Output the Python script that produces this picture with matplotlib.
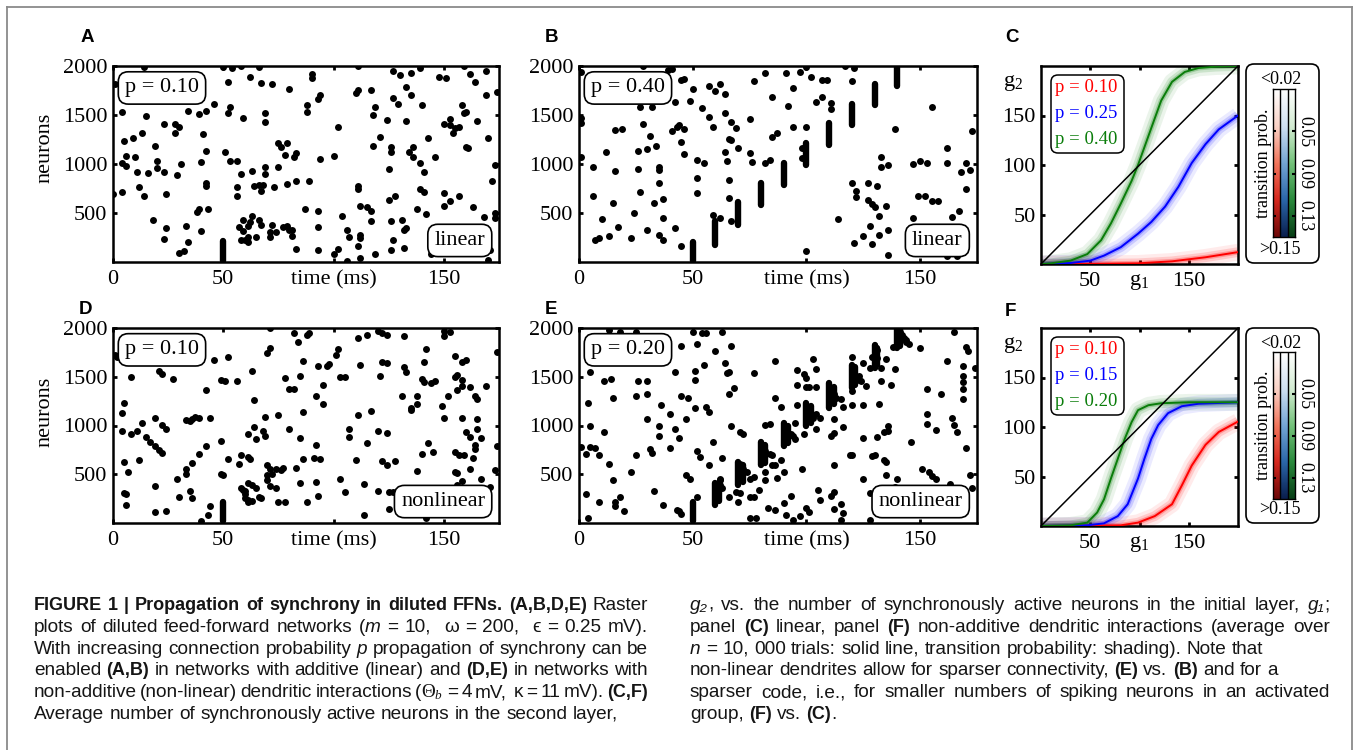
import numpy as np
import matplotlib
matplotlib.use('Agg')
import matplotlib.pyplot as plt
from matplotlib.colors import LinearSegmentedColormap
from matplotlib.patches import FancyBboxPatch
from matplotlib.transforms import IdentityTransform
from matplotlib.lines import Line2D

plt.rcParams['font.family'] = ['Liberation Serif', 'DejaVu Serif']
plt.rcParams['mathtext.fontset'] = 'custom'
plt.rcParams['mathtext.rm'] = 'Liberation Serif'
plt.rcParams['mathtext.it'] = 'Liberation Serif:italic'
plt.rcParams['mathtext.bf'] = 'Liberation Serif:bold'

W, H = 1354, 750
PX = IdentityTransform()

# ---- raster data: (time ms, neuron index) ----
spikes_a = [(1,1820),(14,1990),(50,1990),(54,1975),(58,2000),(52,1837),(62,1888),(66,1990),(67,1827),(72,1814),(80,1763),(90,1915),(90,1881),(94,1709),(93,1661),(111,2000),(111,1760),(110,1726),(117,1753),(127,1949),(130,1905),(135,1929),(133,1787),(135,1709),(139,1980),(127,1678),(129,1617),(140,1600),(148,1888),(151,1875),(159,2000),(162,1915),(164,1837),(169,1949),(169,1702),(174,1736),
            (4,1526),(15,1492),(34,1540),(39,1509),(42,1543),(46,1611),(53,1584),(52,1516),(59,1465),(69,1516),(69,1431),(23,1407),(28,1407),(30,1380),(28,1319),(13,1319),(9,1269),(5,1235),(41,1302),(88,1607),(88,1533),(102,1380),(119,1577),(118,1499),(124,1448),(133,1438),(143,1262),(150,1404),(153,1455),(153,1397),(154,1313),(158,1600),(159,1522),(160,1533),(155,1370),(157,1380),(165,1438),(170,1269),(161,1160),(160,1170),(121,1272),(118,1184),(126,1177),(126,1126),(136,1177),(134,1126),(136,1075),(139,1015),(141,923),(146,1075),(125,947),
            (19,1187),(6,1086),(10,1069),(4,1015),(6,981),(11,923),(16,913),(20,957),(23,923),(20,1035),(31,998),(29,889),(42,1137),(40,1018),(51,1120),(53,1032),(56,1035),(58,896),(63,933),(69,974),(69,899),(75,974),(75,1218),(76,1177),(79,1211),(78,1093),(83,1116),(82,1075),(94,1049),(100,1083),(173,991),(172,828),
            (4,713),(0,696),(12,761),(14,669),(18,432),(24,696),(42,811),(42,771),(38,507),(39,541),(43,541),(40,320),(24,347),(23,236),(33,371),(34,202),(30,87),(32,111),(56,764),(56,676),(64,771),(66,788),(67,720),(68,788),(73,761),(79,798),(83,828),(89,822),(87,541),(93,517),(93,354),(83,134),(93,121),(100,83),(102,134),(104,466),(106,324),(107,253),(111,777),(111,744),(112,574),(115,561),(117,524),(117,415),(112,280),(112,246),(111,168),(112,43),(119,83),(126,121),(126,415),(125,636),(128,669),(131,432),(132,330),(133,347),(127,229),(132,144),(138,544),(142,493),(139,744),(141,710),(150,703),(153,618),(150,568),(157,669),(163,561),(168,459),(173,500),(173,449),(144,77),(154,111),(171,121),(170,19),(106,9),
            (57,354),(59,314),(58,229),(60,229),(61,256),(61,205),(59,425),(62,405),(61,364),(63,466),(65,253),(66,432),(67,374),(71,256),(71,304),(72,381),(74,304),(77,357),(79,364),(80,330),(81,263),(81,330)]
pulses_a = [(50, 10, 210)]

spikes_b = [(1,1939),(1,1414),(1,1465),(1,1076),(6,974),(6,669),(7,222),(9,246),(10,442),(13,263),(12,1126),(15,602),(16,933),(16,1346),(19,1357),(17,358),(23,246),(24,500),(26,947),(26,1133),(27,710),(27,1584),(32,1584),(28,2000),(28,1407),(30,324),(30,1150),(31,1286),(34,1184),(33,602),(35,974),(35,940),(35,811),(35,280),(37,222),(37,642),(37,449),(39,1963),(41,1973),(42,1634),(42,347),(41,1340),(43,1380),(44,1397),(46,1353),(45,1228),(46,1103),(45,168),(45,1854),(46,1871),(49,1644),(50,1770),(52,1042),(55,1008),(52,862),(52,703),(54,1567),(57,1793),(60,1746),(57,1482),(59,1380),(62,1821),(64,1719),(59,476),(62,449),(64,1516),(64,1126),(65,1032),(66,839),(66,652),(67,415),(66,1252),(67,1245),(67,1431),(69,1370),(70,1167),(75,1455),(75,1116),(76,1025),(77,1844),(82,1015),(84,1042),(82,1929),(85,1685),(85,1272),(87,1313),(91,1929),(92,1590),(94,1780),(94,1380),(97,1939),(100,1990),(100,1380),(100,111),(98,1160),(98,1059),(102,1888),(104,1634),(107,1685),(107,1854),(109,1854),(111,1627),(111,1560),(114,442),(117,2000),(121,1980),(120,1848),(120,811),(122,720),(122,659),(121,195),(125,263),(127,811),(127,629),(129,188),(129,595),(131,771),(130,561),(128,371),(132,466),(132,280),(135,568),(133,1076),(133,974),(136,324),(136,67),(136,991),(139,1353),(147,998),(150,1032),(153,1008),(147,449),(149,669),(152,676),(155,625),(158,625),(155,1584),(162,1160),(162,1008),(164,459),(167,517),(162,60),(166,60),(168,923),(170,1008),(172,940),(170,744),(173,1340)]
pulses_b = [(50,10,200),(60,178,415),(70,381,612),(80,585,805),(90,788,1008),(100,991,1218),(110,1194,1414),(120,1397,1611),(130,1600,1821),(140,1793,1990)]

spikes_d = [(1,1723),(2,1706),(5,1233),(4,1132),(4,946),(8,1497),(8,912),(11,946),(13,1024),(15,878),(17,835),(19,794),(21,750),(22,716),(19,1074),(22,1003),(24,963),(21,1564),(22,1530),(27,1476),(5,625),(7,524),(5,304),(6,294),(6,186),(12,649),(19,382),(19,108),(24,118),(29,450),(30,271),(33,507),(33,558),(36,618),(39,710),(42,794),(35,328),(36,254),(33,1054),(36,1064),(35,1047),(37,1088),(39,1074),(44,1081),(42,1362),(46,1672),(52,1699),(40,24),(43,85),(44,179),(49,845),(49,507),(50,490),(49,1470),(51,1453),(56,1459),(63,1554),(52,659),(57,602),(58,693),(61,676),(62,659),(61,912),(64,987),(65,862),(64,1257),(68,946),(69,889),(69,1091),(70,1740),(71,1791),(71,2000),(75,1105),(78,1486),(80,1375),(82,1375),(80,963),(82,1949),(84,1858),(88,1932),(89,1949),(86,1662),(85,1510),(86,1142),(85,868),(86,659),(83,564),(91,669),(94,659),(92,804),(93,1612),(97,1612),(98,1632),(95,1419),(92,1307),(95,1223),(101,1723),(102,1780),(103,1497),(105,1497),(107,963),(107,878),(111,1108),(112,1622),(111,1902),(115,1932),(117,1149),(115,821),(120,1970),(122,1949),(124,1926),(132,1916),(121,1510),(122,1649),(124,1639),(120,939),(124,919),(122,635),(124,591),(128,632),(132,1598),(133,1544),(131,1307),(135,1182),(135,1155),(138,1301),(138,531),(140,710),(142,1780),(141,1649),(140,1480),(141,1446),(138,1216),(144,1436),(146,1453),(150,1966),(153,1959),(150,1919),(149,1200),(152,1307),(150,1081),(143,821),(145,733),(155,1497),(156,1520),(155,1716),(158,1649),(160,1672),(156,1362),(158,1409),(162,1395),(158,1463),(164,1307),(165,1274),(158,1081),(155,733),(157,693),(159,693),(160,929),(163,669),(162,878),(165,1071),(165,963),(167,868),(164,801),(164,754),(169,1409),(174,1757),(174,794),(173,541),(155,524),(156,517),(158,429),(156,389),(162,551),(167,450),(171,372),(152,271),(125,321),(127,314),(125,142),(114,85),(120,328),(114,399),(103,450),(105,321),(110,642),(93,281),(92,416),(88,213),(85,406),(78,220),(74,355),(75,220),(70,591),(71,551),(72,507),(74,558),(76,547),(77,564),(70,490),(70,440),(71,382),(61,237),(63,230),(66,271),(67,254),(61,406),(63,389),(65,362),(60,328),(60,254),(61,213),(58,355),(59,338),(60,294),(142,51)]
pulses_d = [(50, 20, 220)]

spikes_e = [(1,777),(3,710),(5,777),(7,770),(9,693),(3,294),(4,51),(5,1544),(4,1226),(5,997),(9,213),(11,1453),(14,1476),(13,1976),(18,1959),(25,1959),(15,1277),(11,929),(13,601),(15,439),(16,213),(18,271),(16,179),(20,118),(23,524),(25,693),(25,1307),(26,1459),(30,1453),(30,1318),(30,1064),(31,760),(32,720),(33,328),(35,997),(36,1206),(35,889),(37,186),(40,1122),(40,767),(42,1544),(42,963),(43,135),(44,118),(45,91),(45,1818),(45,1301),(48,1284),(44,868),(47,1071),(47,490),(49,456),(50,1959),(54,1953),(56,1949),(51,1470),(51,1564),(52,1834),(51,1176),(52,743),(52,264),(53,676),(55,1622),(56,1193),(57,1139),(57,591),(59,828),(60,1767),(63,1959),(64,1645),(65,1537),(66,1544),(66,1328),(68,1385),(67,1814),(63,666),(62,439),(67,990),(71,929),(72,912),(77,1537),(69,321),(71,304),(70,213),(66,271),(75,271),(77,264),(79,338),(75,51),(78,51),(82,524),(82,439),(83,152),(86,135),(85,591),(86,598),(87,463),(89,642),(90,524),(82,1003),(84,1013),(86,1662),(86,1284),(89,1193),(90,203),(91,85),(93,281),(94,34),(96,1571),(99,1530),(100,1487),(96,1419),(100,1395),(101,1395),(104,1395),(96,1206),(98,551),(95,1030),(97,68),(99,912),(100,152),(101,111),(103,1679),(104,1578),(104,963),(105,338),(106,237),(106,1081),(111,895),(112,922),(112,1071),(112,598),(111,281),(112,314),(112,145),(115,193),(116,101),(115,34),(116,980),(116,1193),(119,693),(120,700),(120,1352),(120,1706),(120,1206),(125,1206),(124,1459),(125,1639),(128,1588),(126,1402),(129,1706),(125,868),(125,456),(128,304),(128,34),(129,686),(130,693),(131,878),(132,1216),(133,1459),(133,1588),(135,1679),(134,929),(134,642),(135,625),(135,490),(136,939),(136,997),(137,1419),(138,1807),(139,1578),(140,450),(139,372),(143,1902),(144,1858),(145,1834),(146,835),(150,1790),(151,558),(154,524),(155,483),(157,456),(153,1115),(153,1013),(157,953),(153,1375),(159,1318),(162,1666),(165,1959),(164,1081),(165,1003),(166,936),(163,395),(170,1807),(171,1767),(169,1615),(169,1510),(169,1443),(169,1375),(169,1274),(170,767),(172,490),(173,362),(174,1588),
            (62,389),(62,456),(63,355),(71,608),(72,558),(74,524),(75,456),(77,473),(81,726),(82,743),(84,710),(85,693),(91,946),(93,912),(94,889),(95,862),(101,1132),(103,1081),(104,1115),(112,1318),(113,1284),(115,1267),(121,1520),(123,1503),(123,1470),(131,1774),(131,1689),(141,1959),(142,1926),(144,1875)]
pulses_e = [(50,24,220),(60,186,412),(61.5,230,400),(70,389,625),(72,420,600),(80,591,828),(82,620,800),(90,794,1030),(92,820,1000),(100,997,1233),(102,1030,1200),(110,1182,1436),(112,1220,1400),(120,1385,1622),(121.5,1420,1600),(130,1588,1824),(131,1620,1800),(140,1790,2000),(141,1820,1990)]

# ---- transfer curves g2(g1) ----
c_red_x = [0, 50, 98.5, 133, 167, 200]
c_red_y = [0, 0.2, 0.7, 2.7, 6.8, 12]
c_blue_x = [0, 30, 50, 64, 81, 98.5, 112, 126, 139.5, 153, 167, 180.5, 200]
c_blue_y = [0, 1, 3.4, 8.5, 17, 30.6, 42.5, 58, 78, 102, 121, 136, 150]
c_green_x = [0, 10, 30, 47, 61, 71, 81, 92, 98.5, 105, 114, 122, 133, 146, 160, 177, 200]
c_green_y = [0, 0.7, 3.4, 10, 24, 41, 61, 84, 100, 118, 143, 165, 184, 194, 198, 199.3, 200]

f_red_x = [0, 81, 98.5, 115.5, 133, 143, 153, 167, 180.5, 200]
f_red_y = [0, 0.7, 3.4, 10, 22, 41, 61, 82, 95, 105.5]
f_blue_x = [0, 47, 64, 78, 88, 98.5, 105, 112, 119, 129, 143, 160, 200]
f_blue_y = [0, 0.7, 2.7, 10, 22, 48, 68, 88, 102, 114, 121, 123.5, 125]
f_green_x = [0, 30, 47, 57, 64, 71, 78, 85, 92, 98.5, 109, 122, 150, 200]
f_green_y = [0, 0.7, 3.4, 13.6, 27, 48, 68, 88, 105, 117, 122, 124, 125, 125]

p_labels_c = ['p = 0.10', 'p = 0.25', 'p = 0.40']
p_labels_f = ['p = 0.10', 'p = 0.15', 'p = 0.20']
cb_ticks = [0.05, 0.09, 0.13]

RED, BLUE, GREEN = '#ff0000', '#0000ff', '#0a7d0a'

fig = plt.figure(figsize=(W / 100, H / 100), dpi=100)


def px_axes(x0, y0, x1, y1):
    return fig.add_axes([x0 / W, 1 - y1 / H, (x1 - x0) / W, (y1 - y0) / H])


def frame(ax, lw=1.8):
    for s in ax.spines.values():
        s.set_linewidth(lw)


def raster(box, spikes, pulses, ptxt, mode, txt_x):
    ax = px_axes(*box)
    t, n = np.array(spikes, dtype=float).T
    ax.scatter(t, n, s=25, c='k', linewidths=0, zorder=2)
    for tp, lo, hi in pulses:
        ax.plot([tp, tp], [lo, hi], color='k', lw=4.6, solid_capstyle='round', zorder=2)
    ax.set_xlim(0, 175)
    ax.set_ylim(0, 2000)
    ax.set_xticks([0, 50, 100, 150])
    ax.set_xticklabels(['0', '50', 'time (ms)', '150'])
    ax.set_yticks([500, 1000, 1500, 2000])
    ax.tick_params(direction='in', length=3, width=2, top=True, right=True, labelsize=16)
    ax.tick_params(axis='x', pad=6)
    ax.tick_params(axis='y', pad=4)
    frame(ax)
    bb = dict(boxstyle='round,pad=0.3,rounding_size=0.45', fc='white', ec='black', lw=1.2)
    ax.text(txt_x, 0.888, ptxt, transform=ax.transAxes, fontsize=16, ha='left', va='center', bbox=bb, zorder=5)
    ax.text(0.964, 0.11, mode, transform=ax.transAxes, fontsize=16, ha='right', va='center', bbox=bb, zorder=5)
    return ax


raster((113, 66, 499, 262), spikes_a, pulses_a, 'p = 0.10', 'linear', 0.031)
raster((579, 66, 977, 262), spikes_b, pulses_b, 'p = 0.40', 'linear', 0.03)
raster((113, 328, 499, 523), spikes_d, pulses_d, 'p = 0.10', 'nonlinear', 0.031)
raster((579, 328, 977, 523), spikes_e, pulses_e, 'p = 0.20', 'nonlinear', 0.03)

for yc in (148, 412):
    fig.text(45, H - yc, 'neurons', transform=PX, fontsize=16, rotation=90, ha='center', va='center')

cmaps = [LinearSegmentedColormap.from_list('r', ['#ffffff', '#fad2c6', '#f2765c', '#d6281e', '#6e0808']),
         LinearSegmentedColormap.from_list('b', ['#ffffff', '#cfe0f1', '#74a6d4', '#2b67a9', '#0a1f4e']),
         LinearSegmentedColormap.from_list('g', ['#ffffff', '#d3ecd2', '#74c27a', '#2a8a3c', '#083f16'])]


def transfer(top, curves, labels, cb_top, cb_bot, box_top, box_bot):
    ax = px_axes(1041, top, 1238, top + 198)
    ax.plot([0, 200], [0, 200], color='k', lw=1.1, zorder=4)
    for (x, y), col in zip(curves, [RED, BLUE, GREEN]):
        for lw, a in [(12, 0.08), (7, 0.14), (3.5, 0.25)]:
            ax.plot(x, y, color=col, lw=lw, alpha=a, solid_capstyle='butt', zorder=2)
        ax.plot(x, y, color=col, lw=1.4, zorder=3)
    ax.set_xlim(0, 200)
    ax.set_ylim(0, 200)
    ax.set_xticks([50, 100, 150])
    ax.set_xticklabels(['50', r'$\mathrm{g}_1$', '150'])
    ax.set_yticks([50, 100, 150])
    ax.tick_params(direction='in', length=3, width=2, top=True, right=True, labelsize=16)
    ax.tick_params(axis='x', pad=6)
    ax.tick_params(axis='y', pad=4)
    frame(ax)
    ax.text(-0.142, 0.915, r'$\mathrm{g}_2$', transform=ax.transAxes, fontsize=16, ha='center', va='center')
    # legend box
    fig.add_artist(FancyBboxPatch((1051, H - (top + 87)), 73, 78, boxstyle='round,pad=0,rounding_size=7',
                                  transform=PX, fc='white', ec='black', lw=1.1, zorder=5))
    for i, (lab, col) in enumerate(zip(labels, [RED, BLUE, GREEN])):
        fig.text(1055, H - (top + 21 + 26 * i), lab, transform=PX, color=col, fontsize=13.5,
                 ha='left', va='center', zorder=6)
    # colour strips
    cax = px_axes(1273, cb_top, 1295, cb_bot)
    grad = np.linspace(0.01, 0.15, 120)[:, None]
    for i, cm in enumerate(cmaps):
        cax.imshow(grad, cmap=cm, vmin=0.01, vmax=0.15, aspect='auto', extent=[i, i + 1, 0.15, 0.01])
    for xb in (1, 2):
        cax.axvline(xb, color='k', lw=1.0)
    cax.set_xlim(0, 3)
    cax.set_ylim(0.15, 0.01)
    cax.set_xticks([])
    cax.set_yticks(cb_ticks)
    cax.set_yticklabels(['%.2f' % v for v in cb_ticks])
    cax.tick_params(axis='y', direction='in', length=2, width=1.5, left=True, right=True,
                    labelleft=False, labelright=True, labelsize=13, pad=1)
    for lab in cax.get_yticklabels():
        lab.set_rotation(-90)
        lab.set_va('center')
    frame(cax, 1.0)
    fig.add_artist(FancyBboxPatch((1246, H - box_bot), 73, box_bot - box_top, boxstyle='round,pad=0,rounding_size=8',
                                  transform=PX, fc='none', ec='black', lw=1.2, zorder=1))
    fig.text(1281, H - (box_top + 15), '<0.02', transform=PX, fontsize=13, ha='center', va='center')
    fig.text(1280, H - (box_bot - 14), '>0.15', transform=PX, fontsize=13, ha='center', va='center')
    fig.text(1263, H - (cb_top + cb_bot) / 2, 'transition prob.', transform=PX, fontsize=13,
             rotation=90, ha='center', va='center')


transfer(66, [(c_red_x, c_red_y), (c_blue_x, c_blue_y), (c_green_x, c_green_y)], p_labels_c, 89, 237, 64, 263)
transfer(328, [(f_red_x, f_red_y), (f_blue_x, f_blue_y), (f_green_x, f_green_y)], p_labels_f, 352, 499, 328, 523)

# panel letters
for lt, (x, y) in zip('ABCDEF', [(87, 38), (551, 38), (1012, 38), (86, 309), (551, 309), (1010, 311)]):
    fig.text(x, H - y, lt, transform=PX, fontsize=13.5, weight='bold', family=['Liberation Sans', 'DejaVu Sans'],
             ha='center', va='center')

# outer frame
for xs, ys in [([7, 1352], [7, 7]), ([7, 7], [7, 750]), ([1352, 1352], [7, 750])]:
    fig.add_artist(Line2D(xs, [H - v for v in ys], transform=PX, color='#8a8a8a', lw=1.3))

# caption
cap_font = ['Liberation Sans Narrow', 'Liberation Sans', 'DejaVu Sans']
left_lines = [
    [('FIGURE 1 | Propagation of synchrony in diluted FFNs. (A,B,D,E)', 'b'), (' Raster', 'n')],
    [('plots of diluted feed-forward networks (', 'n'), ('m', 'i'), (' = 10,  ω = 200,  ϵ = 0.25 mV).', 'n')],
    [('With increasing connection probability', 'n'), (' p', 'i'), (' propagation of synchrony can be', 'n')],
    [('enabled', 'n'), (' (A,B)', 'b'), (' in networks with additive (linear) and', 'n'), (' (D,E)', 'b'), (' in networks with', 'n')],
    [('non-additive (non-linear) dendritic interactions (', 'n'), (r'$\Theta_b$', 'n'), (' = 4 mV,  κ = 11 mV).', 'n'), (' (C,F)', 'b')],
    [('Average number of synchronously active neurons in the second layer,', 'n')],
]
right_lines = [
    [('g₂', 'i'), (', vs. the number of synchronously active neurons in the initial layer,', 'n'), (' g₁', 'i'), (';', 'n')],
    [('panel', 'n'), (' (C)', 'b'), (' linear, panel', 'n'), (' (F)', 'b'), (' non-additive dendritic interactions (average over', 'n')],
    [('n', 'i'), (' = 10, 000 trials: solid line, transition probability: shading). Note that', 'n')],
    [('non-linear dendrites allow for sparser connectivity,', 'n'), (' (E)', 'b'), (' vs.', 'n'), (' (B)', 'b'), (' and for a', 'n')],
    [('sparser code, i.e., for smaller numbers of spiking neurons in an activated', 'n')],
    [('group,', 'n'), (' (F)', 'b'), (' vs.', 'n'), (' (C)', 'b'), ('.', 'n')],
]
left_just = [True, True, True, True, True, False]
right_just = [True, True, False, False, True, False]

renderer = fig.canvas.get_renderer()
CAP_SIZE = 13.7
CAP_BOLD = 13.0


def cap_kw(st):
    kw = dict(fontsize=CAP_SIZE, family=cap_font, ha='left', va='baseline', transform=PX, color='#151515')
    if st == 'b':
        kw['weight'] = 'bold'
        kw['fontsize'] = CAP_BOLD
    elif st == 'i':
        kw['style'] = 'italic'
    return kw


probe1 = fig.text(0, 0, 'x x', **cap_kw('n'))
probe2 = fig.text(0, 0, 'xx', **cap_kw('n'))
SPACE = probe1.get_window_extent(renderer).width - probe2.get_window_extent(renderer).width
probe1.remove()
probe2.remove()


def rich_line(x0, x1, y, segs, justify):
    tokens = []
    pend = 0
    for s, st in segs:
        for j, part in enumerate(s.split(' ')):
            if j > 0:
                pend += 1
            if part == '':
                continue
            tokens.append([part, st, pend])
            pend = 0
    arts = []
    for part, st, sp in tokens:
        t = fig.text(0, H - y, part, **cap_kw(st))
        arts.append((t, t.get_window_extent(renderer).width, sp))
    natural = sum(w for _, w, _ in arts) + SPACE * sum(sp for _, _, sp in arts)
    nsp = sum(sp for _, _, sp in arts)
    extra = (x1 - x0 - natural) / nsp if (justify and nsp) else 0.0
    x = x0
    for t, w, sp in arts:
        x += sp * (SPACE + extra)
        t.set_x(x)
        x += w


for i, segs in enumerate(left_lines):
    rich_line(34, 648, 610 + 21.8 * i, segs, left_just[i])
for i, segs in enumerate(right_lines):
    rich_line(690, 1330, 610 + 21.8 * i, segs, right_just[i])

fig.savefig('out.png', dpi=100)
